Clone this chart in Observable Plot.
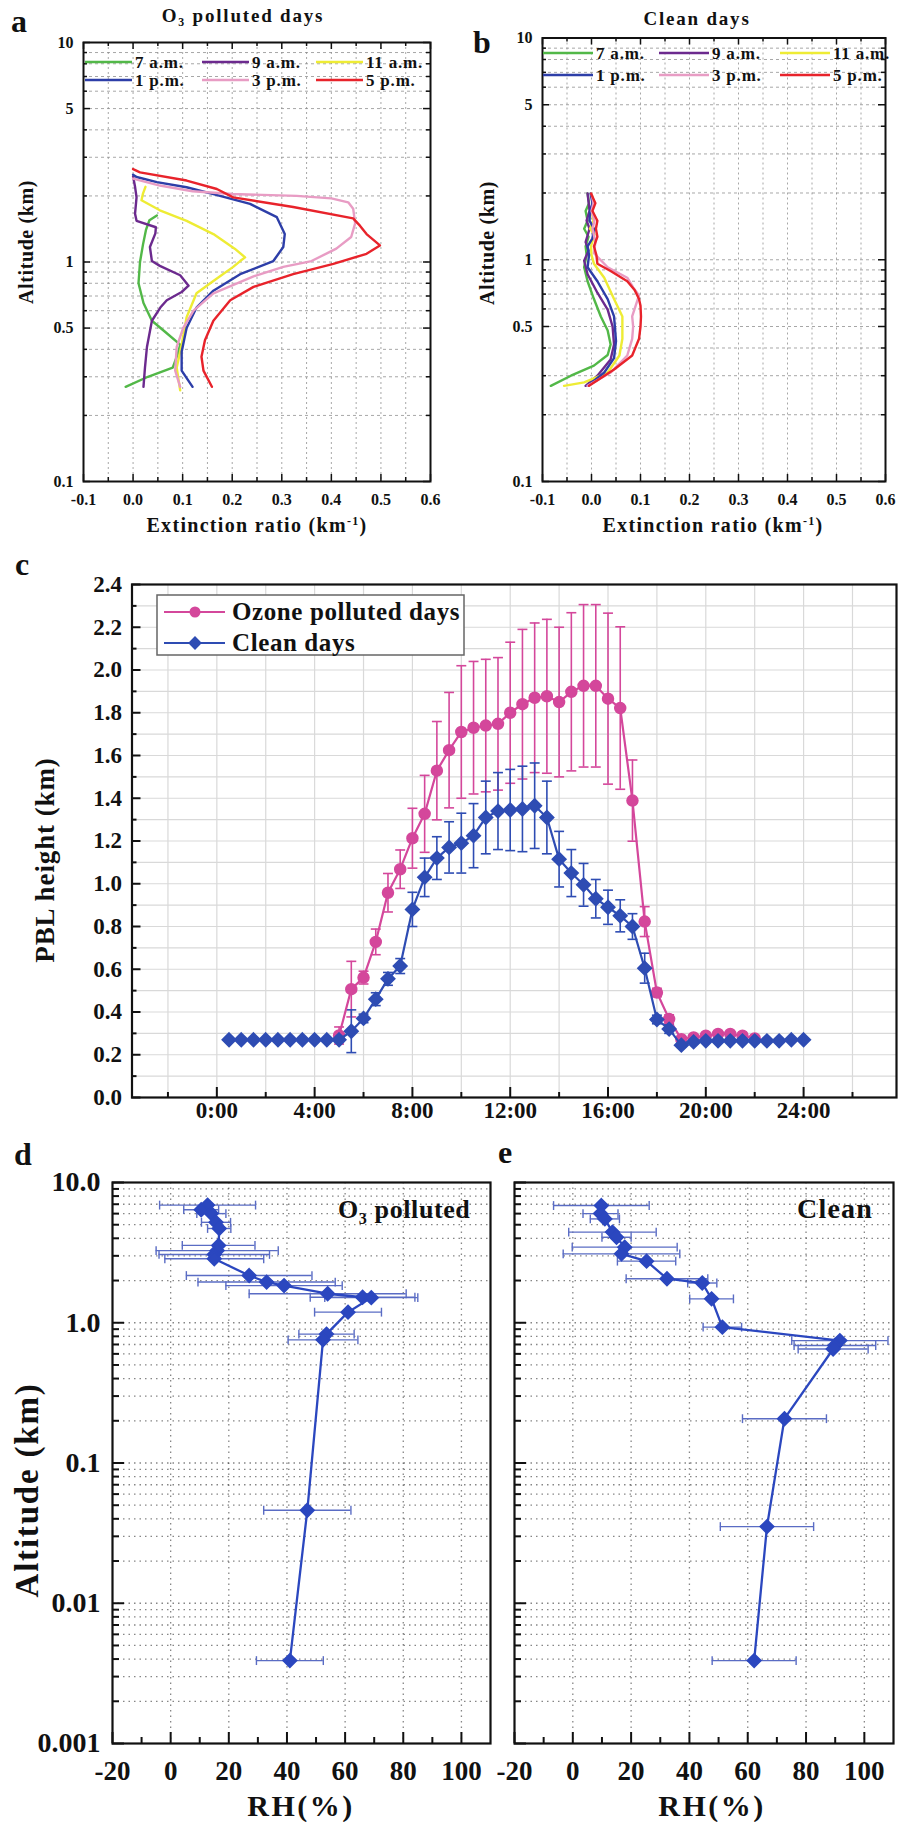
<!DOCTYPE html>
<html>
<head>
<meta charset="utf-8">
<script src="https://cdn.jsdelivr.net/npm/d3@7"></script>
<script src="https://cdn.jsdelivr.net/npm/@observablehq/plot@0.6"></script>
<style>
html,body{margin:0;padding:0;background:#fff;}
#root{position:relative;width:900px;height:1822px;overflow:hidden;background:#fff;}
</style>
</head>
<body>
<div id="root"></div>
<script>
// ================= DATA =================
// Panels a / b : extinction profiles  [altitude (km), extinction ratio (km^-1)]
const profileTimes = ["7 a.m.", "9 a.m.", "11 a.m.", "1 p.m.", "3 p.m.", "5 p.m."];

const polluted7am  = [[0.27,-0.015],[0.30,0.03],[0.33,0.08],[0.38,0.09],[0.42,0.095],[0.48,0.065],[0.54,0.038],[0.65,0.021],[0.80,0.011],[1.0,0.014],[1.2,0.02],[1.4,0.026],[1.55,0.033],[1.63,0.048]];
const polluted9am  = [[0.27,0.021],[0.33,0.024],[0.41,0.028],[0.54,0.038],[0.62,0.055],[0.67,0.068],[0.73,0.098],[0.78,0.112],[0.87,0.095],[0.96,0.054],[1.01,0.038],[1.17,0.034],[1.35,0.045],[1.44,0.046],[1.54,0.007],[1.66,0.004],[1.97,0.007],[2.2,0.004],[2.45,0.0]];
const polluted11am = [[0.26,0.095],[0.33,0.088],[0.42,0.098],[0.56,0.108],[0.72,0.128],[0.82,0.162],[0.95,0.202],[1.01,0.216],[1.05,0.226],[1.15,0.205],[1.34,0.162],[1.54,0.108],[1.72,0.054],[1.91,0.017],[2.05,0.02],[2.2,0.025]];
const polluted1pm  = [[0.27,0.12],[0.32,0.098],[0.39,0.098],[0.50,0.108],[0.62,0.128],[0.74,0.162],[0.88,0.216],[1.01,0.283],[1.17,0.303],[1.34,0.306],[1.6,0.29],[1.84,0.236],[2.04,0.162],[2.19,0.108],[2.31,0.048],[2.44,0.007],[2.5,0.0]];
const polluted3pm  = [[0.27,0.095],[0.32,0.085],[0.41,0.088],[0.50,0.101],[0.60,0.122],[0.72,0.162],[0.86,0.243],[0.95,0.303],[1.01,0.36],[1.15,0.41],[1.3,0.44],[1.5,0.448],[1.75,0.444],[1.87,0.434],[1.95,0.40],[2.0,0.33],[2.04,0.2],[2.1,0.12],[2.23,0.054],[2.4,0.0]];
const polluted5pm  = [[0.27,0.159],[0.32,0.142],[0.37,0.138],[0.44,0.145],[0.54,0.162],[0.67,0.196],[0.77,0.243],[0.88,0.323],[0.98,0.404],[1.09,0.471],[1.19,0.498],[1.34,0.471],[1.46,0.458],[1.58,0.444],[1.78,0.323],[1.97,0.202],[2.15,0.169],[2.35,0.108],[2.56,0.014],[2.65,0.0]];

const clean7am  = [[0.27,-0.083],[0.30,-0.042],[0.333,0.005],[0.372,0.033],[0.415,0.039],[0.48,0.033],[0.555,0.019],[0.665,0.005],[0.80,-0.008],[0.925,-0.015],[1.05,-0.01],[1.15,-0.012],[1.27,-0.006],[1.38,-0.015],[1.5,-0.008],[1.66,-0.012],[1.8,-0.005],[1.99,-0.008]];
const clean9am  = [[0.27,-0.012],[0.30,0.012],[0.355,0.039],[0.415,0.046],[0.50,0.043],[0.596,0.033],[0.71,0.012],[0.86,-0.008],[0.99,-0.015],[1.1,-0.006],[1.2,-0.012],[1.38,-0.004],[1.5,-0.01],[1.66,-0.004],[1.99,-0.008]];
const clean11am = [[0.27,-0.056],[0.28,-0.015],[0.31,0.033],[0.37,0.057],[0.44,0.063],[0.555,0.063],[0.665,0.046],[0.83,0.026],[0.96,0.005],[1.05,0.0],[1.15,-0.001],[1.3,0.006],[1.38,-0.003],[1.5,0.004],[1.66,0.0],[1.8,0.005],[1.99,0.0]];
const clean1pm  = [[0.27,-0.008],[0.31,0.026],[0.36,0.046],[0.43,0.05],[0.555,0.046],[0.665,0.033],[0.80,0.012],[0.925,-0.008],[1.05,-0.005],[1.15,-0.008],[1.25,0.002],[1.38,0.005],[1.5,-0.004],[1.66,-0.003],[1.8,0.002],[1.99,-0.002]];
const clean3pm  = [[0.27,-0.008],[0.31,0.039],[0.37,0.073],[0.44,0.083],[0.50,0.085],[0.555,0.083],[0.62,0.09],[0.69,0.097],[0.75,0.085],[0.83,0.073],[0.925,0.033],[1.07,0.005],[1.2,0.008],[1.38,0.002],[1.5,0.006],[1.66,0.0],[1.8,0.004],[1.99,0.0]];
const clean5pm  = [[0.27,-0.005],[0.32,0.046],[0.37,0.083],[0.44,0.097],[0.50,0.1],[0.555,0.101],[0.62,0.1],[0.665,0.097],[0.73,0.088],[0.80,0.073],[0.89,0.039],[0.96,0.012],[1.05,0.01],[1.15,0.005],[1.27,0.012],[1.38,0.009],[1.5,0.012],[1.66,0.002],[1.8,0.008],[1.99,-0.001]];

// Panel c : PBL height (km) vs local time (h)
const cleanHours = [0.5,1,1.5,2,2.5,3,3.5,4,4.5,5,5.5,6,6.5,7,7.5,8,8.5,9,9.5,10,10.5,11,11.5,12,12.5,13,13.5,14,14.5,15,15.5,16,16.5,17,17.5,18,18.5,19,19.5,20,20.5,21,21.5,22,22.5,23,23.5,24];
const cleanPBL   = [0.27,0.27,0.27,0.27,0.27,0.27,0.27,0.27,0.27,0.27,0.31,0.37,0.46,0.555,0.615,0.88,1.03,1.12,1.17,1.19,1.225,1.31,1.34,1.345,1.35,1.365,1.31,1.115,1.05,0.995,0.93,0.89,0.85,0.80,0.605,0.365,0.32,0.245,0.26,0.265,0.265,0.265,0.265,0.265,0.265,0.265,0.27,0.27];
const cleanPBLErr = [0,0,0,0,0,0,0,0,0,0,0.1,0.02,0.03,0.03,0.035,0.08,0.09,0.1,0.12,0.14,0.15,0.17,0.18,0.19,0.2,0.2,0.17,0.13,0.11,0.1,0.09,0.08,0.075,0.06,0.07,0.02,0.02,0.01,0,0,0,0,0,0,0,0,0,0];
const pollutedHours = [5,5.5,6,6.5,7,7.5,8,8.5,9,9.5,10,10.5,11,11.5,12,12.5,13,13.5,14,14.5,15,15.5,16,16.5,17,17.5,18,18.5,19,19.5,20,20.5,21,21.5,22];
const pollutedPBL   = [0.29,0.507,0.561,0.728,0.958,1.068,1.213,1.327,1.529,1.625,1.71,1.73,1.74,1.748,1.80,1.84,1.87,1.877,1.85,1.898,1.926,1.926,1.866,1.822,1.389,0.823,0.491,0.367,0.273,0.281,0.289,0.297,0.297,0.289,0.276];
const pollutedPBLErr = [0.04,0.13,0.03,0.06,0.09,0.09,0.14,0.18,0.23,0.27,0.31,0.31,0.31,0.31,0.33,0.35,0.35,0.36,0.35,0.37,0.38,0.38,0.40,0.38,0.19,0.07,0.02,0.02,0.01,0.01,0.01,0.01,0.01,0.01,0.01];

// Panels d / e : RH profiles  [altitude (km), RH (%), error (%)]
const rhPolluted = [[6.9,12.7,16.5],[6.4,10.5,6],[6.0,14,5],[5.2,15.6,5],[4.7,16.7,4],[3.56,16.5,12.5],[3.27,16,21],[3.07,15,19],[2.86,15,17],[2.17,27,21.6],[1.95,33,23.6],[1.84,39,20],[1.61,54,27],[1.52,66,18],[1.51,69,16],[1.19,61,11.5],[0.83,53.6,9.5],[0.755,52.4,12],[0.046,47,15],[0.0039,41,11.5]];
const rhClean = [[6.85,9.8,16.4],[6.0,9.5,6],[5.5,11,5],[4.43,13.6,15],[4.07,15,5],[3.46,17.8,18],[3.1,16.7,20],[2.75,25.3,10],[2.06,32.3,14],[1.92,44.4,5],[1.48,47.6,7.5],[0.93,51.3,6.6],[0.746,91.6,16.5],[0.688,89.9,14],[0.65,89.3,12],[0.207,72.6,14.4],[0.0352,66.6,16],[0.0039,62.2,14.4]];

// Tick values
const extTicks = [-0.1,0,0.1,0.2,0.3,0.4,0.5,0.6];
const extMinor = [-0.05,0.05,0.15,0.25,0.35,0.45,0.55];
const altTicksAB = [0.1,0.5,1,5,10];
const altMinorAB = [0.2,0.3,0.4,0.6,0.7,0.8,0.9,2,3,4,6,7,8,9];
const pblTicks = [0,0.2,0.4,0.6,0.8,1.0,1.2,1.4,1.6,1.8,2.0,2.2,2.4];
const pblMinor = [0.1,0.3,0.5,0.7,0.9,1.1,1.3,1.5,1.7,1.9,2.1,2.3];
const hourTicks = [0,4,8,12,16,20,24];
const hourMinor = [-2,2,6,10,14,18,22,26];
const rhTicks = [-20,0,20,40,60,80,100];
const rhMinor = [-10,10,30,50,70,90];
const altTicksDE = [0.001,0.01,0.1,1,10];
const altMinorDE = [0.002,0.003,0.004,0.005,0.006,0.007,0.008,0.009,0.02,0.03,0.04,0.05,0.06,0.07,0.08,0.09,0.2,0.3,0.4,0.5,0.6,0.7,0.8,0.9,2,3,4,5,6,7,8,9];

// ================= STYLE =================
const FONT = '"Liberation Serif", "Times New Roman", Times, serif';
const INK = "#111";
const profileColors = ["#52b848", "#6c2a8e", "#eeec34", "#2d3ea8", "#e89cc4", "#e8232b"];
const PINK = "#d4479b", BLUE = "#2e4cb3";
const RHBLUE = "#2b47bf", RHERR = "#5a6cc4";

const root = document.getElementById("root");
function place(el, left, top) {
  el.style.position = "absolute";
  el.style.left = left + "px";
  el.style.top = top + "px";
  root.appendChild(el);
}
const ticksBottom = (v, len, ih, sw = 1.5) => Plot.ruleX(v, {insetTop: ih - len, stroke: INK, strokeWidth: sw});
const ticksTop    = (v, len, ih, sw = 1.5) => Plot.ruleX(v, {insetBottom: ih - len, stroke: INK, strokeWidth: sw});
const ticksLeft   = (v, len, iw, sw = 1.5) => Plot.ruleY(v, {insetRight: iw - len, stroke: INK, strokeWidth: sw});
const ticksRight  = (v, len, iw, sw = 1.5) => Plot.ruleY(v, {insetLeft: iw - len, stroke: INK, strokeWidth: sw});
const hCap = {draw(ctx, size) { const r = Math.sqrt(size) / 2; ctx.moveTo(-r, 0); ctx.lineTo(r, 0); }};
const vCap = {draw(ctx, size) { const r = Math.sqrt(size) / 2; ctx.moveTo(0, -r); ctx.lineTo(0, r); }};

// ================= PANELS a / b =================
function profileRows(list) {
  return list.flatMap((arr, i) => arr.map(([alt, ext]) => ({time: profileTimes[i], alt, ext})));
}
function profilePanel(rows, W, H, mL, mR, mT, mB) {
  const iw = W - mL - mR, ih = H - mT - mB;
  return Plot.plot({
    width: W, height: H, marginLeft: mL, marginRight: mR, marginTop: mT, marginBottom: mB,
    x: {domain: [-0.1, 0.6]},
    y: {type: "log", domain: [0.1, 10]},
    color: {domain: profileTimes, range: profileColors},
    style: {fontFamily: FONT, fontSize: "16px", fontWeight: "bold", background: "transparent", color: INK, overflow: "visible"},
    marks: [
      Plot.gridX(extMinor.concat(extTicks.slice(1, -1)), {stroke: "#8a8a8a", strokeOpacity: 0.75, strokeDasharray: "2,3"}),
      Plot.gridY(altMinorAB.concat([0.5, 1, 5]), {stroke: "#8a8a8a", strokeOpacity: 0.75, strokeDasharray: "3,3"}),
      Plot.line(rows, {x: "ext", y: "alt", z: "time", stroke: "time", strokeWidth: 2.4}),
      ticksBottom(extTicks, 7, ih), ticksBottom(extMinor, 4, ih),
      ticksTop(extTicks, 7, ih), ticksTop(extMinor, 4, ih),
      ticksLeft(altTicksAB, 7, iw), ticksLeft(altMinorAB, 4, iw),
      ticksRight(altTicksAB, 7, iw), ticksRight(altMinorAB, 4, iw),
      Plot.frame({stroke: INK, strokeWidth: 2}),
      Plot.axisX(extTicks, {tickSize: 0, tickPadding: 12, tickFormat: d => d.toFixed(1), label: null, letterSpacing: 0.5}),
      Plot.axisY(altTicksAB, {tickSize: 0, tickPadding: 10, tickFormat: d => String(d), label: null})
    ]
  });
}
place(profilePanel(profileRows([polluted7am, polluted9am, polluted11am, polluted1pm, polluted3pm, polluted5pm]), 450, 545, 83, 20, 42, 64), 0, 0);
place(profilePanel(profileRows([clean7am, clean9am, clean11am, clean1pm, clean3pm, clean5pm]), 450, 545, 92, 15, 37.5, 64), 450, 0);

// ================= PANEL c =================
const cleanRows = cleanHours.map((h, i) => ({h, v: cleanPBL[i], e: cleanPBLErr[i]}));
const pollRows = pollutedHours.map((h, i) => ({h, v: pollutedPBL[i], e: pollutedPBLErr[i]}));
const cleanErrRows = cleanRows.filter(d => d.e > 0);
{
  const W = 900, H = 590, mL = 131.5, mR = 4, mT = 39, mB = 38;
  const iw = W - mL - mR, ih = H - mT - mB;
  const errMarks = (rows, color) => [
    Plot.ruleX(rows, {x: "h", y1: d => d.v - d.e, y2: d => d.v + d.e, stroke: color, strokeWidth: 1.6}),
    Plot.dot(rows, {x: "h", y: d => d.v + d.e, symbol: hCap, r: 5.6, fill: "none", stroke: color, strokeWidth: 1.6}),
    Plot.dot(rows, {x: "h", y: d => d.v - d.e, symbol: hCap, r: 5.6, fill: "none", stroke: color, strokeWidth: 1.6})
  ];
  const c = Plot.plot({
    width: W, height: H, marginLeft: mL, marginRight: mR, marginTop: mT, marginBottom: mB,
    x: {domain: [-3.47, 27.8]},
    y: {domain: [0, 2.4]},
    style: {fontFamily: FONT, fontSize: "23px", fontWeight: "bold", background: "transparent", color: INK, overflow: "visible"},
    marks: [
      Plot.gridX(hourMinor.concat(hourTicks), {stroke: "#d9d9d9", strokeOpacity: 1, strokeWidth: 1.2}),
      Plot.gridY(pblMinor.concat(pblTicks.slice(1, -1)), {stroke: "#d9d9d9", strokeOpacity: 1, strokeWidth: 1.2}),
      ...errMarks(pollRows, PINK),
      ...errMarks(cleanErrRows, BLUE),
      Plot.line(pollRows, {x: "h", y: "v", stroke: PINK, strokeWidth: 2.2}),
      Plot.dot(pollRows, {x: "h", y: "v", r: 5.5, fill: PINK, stroke: PINK}),
      Plot.line(cleanRows, {x: "h", y: "v", stroke: BLUE, strokeWidth: 2.2}),
      Plot.dot(cleanRows, {x: "h", y: "v", symbol: "diamond2", r: 6.2, fill: BLUE, stroke: BLUE}),
      ticksLeft(pblTicks, 9, iw, 2), ticksLeft(pblMinor, 5, iw, 2),
      ticksBottom(hourTicks, 10, ih, 2), ticksBottom(hourMinor, 5, ih, 2),
      Plot.frame({stroke: INK, strokeWidth: 2.2}),
      Plot.axisX(hourTicks, {tickSize: 0, tickPadding: 4, tickFormat: d => d + ":00", label: null}),
      Plot.axisY(pblTicks, {tickSize: 0, tickPadding: 10, tickFormat: d => d.toFixed(1), label: null})
    ]
  });
  place(c, 0, 545);
}

// ================= PANELS d / e =================
function rhPanel(list, W, mL, mR, showY) {
  const H = 682, mT = 42, mB = 79;
  const iw = W - mL - mR, ih = H - mT - mB;
  const rows = list.map(([alt, rh, err]) => ({alt, rh, err}));
  const marks = [
    Plot.gridX(rhTicks.slice(1), {stroke: "#222", strokeOpacity: 0.55, strokeDasharray: "1.5,4", strokeWidth: 1.3}),
    Plot.gridY(altMinorDE.concat([0.01, 0.1, 1]), {stroke: "#222", strokeOpacity: 0.55, strokeDasharray: "1.5,4", strokeWidth: 1.3}),
    Plot.ruleY(rows, {y: "alt", x1: d => d.rh - d.err, x2: d => d.rh + d.err, stroke: RHERR, strokeWidth: 1.4}),
    Plot.dot(rows, {x: d => d.rh - d.err, y: "alt", symbol: vCap, r: 5, fill: "none", stroke: RHERR, strokeWidth: 1.4}),
    Plot.dot(rows, {x: d => d.rh + d.err, y: "alt", symbol: vCap, r: 5, fill: "none", stroke: RHERR, strokeWidth: 1.4}),
    Plot.line(rows, {x: "rh", y: "alt", stroke: RHBLUE, strokeWidth: 2.3}),
    Plot.dot(rows, {x: "rh", y: "alt", symbol: "diamond2", r: 6.2, fill: RHBLUE, stroke: RHBLUE}),
    ticksLeft(altTicksDE, 12, iw, 2), ticksLeft(altMinorDE, 7, iw, 2),
    ticksBottom(rhTicks, 11, ih, 2), ticksBottom(rhMinor, 6, ih, 2),
    Plot.frame({stroke: INK, strokeWidth: 2.2}),
    Plot.axisX(rhTicks, {tickSize: 0, tickPadding: 17, tickFormat: d => String(d), label: null})
  ];
  if (showY) marks.push(Plot.axisY(altTicksDE, {tickSize: 0, tickPadding: 12, fontSize: 28, tickFormat: d => d >= 1 ? d.toFixed(1) : String(d), label: null}));
  return Plot.plot({
    width: W, height: H, marginLeft: mL, marginRight: mR, marginTop: mT, marginBottom: mB,
    x: {domain: [-20, 110]},
    y: {type: "log", domain: [0.001, 10], axis: showY ? undefined : null},
    style: {fontFamily: FONT, fontSize: "27px", fontWeight: "bold", background: "transparent", color: INK, overflow: "visible"},
    marks
  });
}
place(rhPanel(rhPolluted, 500, 112, 10, true), 0, 1140);
place(rhPanel(rhClean, 400, 14, 7, false), 500, 1140);

// ================= TEXT OVERLAY =================
const ov = d3.select(root).append("svg")
  .attr("width", 900).attr("height", 1822)
  .style("position", "absolute").style("left", "0px").style("top", "0px")
  .style("pointer-events", "none")
  .attr("font-family", FONT).attr("font-weight", "bold").attr("fill", INK);

function label(x, y, str, size, opts = {}) {
  const t = ov.append("text").attr("x", x).attr("y", y).attr("font-size", size)
    .attr("text-anchor", opts.anchor || "start");
  if (opts.ls != null) t.attr("letter-spacing", opts.ls);
  if (opts.rotate) t.attr("transform", `rotate(-90 ${x} ${y})`).attr("dominant-baseline", "central");
  if (str != null) t.text(str);
  return t;
}
function withSub(t, before, sub, after) {
  t.append("tspan").text(before);
  t.append("tspan").attr("font-size", "0.62em").attr("dy", "0.35em").text(sub);
  t.append("tspan").attr("dy", "-0.22em").text(after);
  return t;
}
function extLabel(x, y) {
  const t = label(x, y, null, 20, {anchor: "middle", ls: 1.3});
  t.append("tspan").text("Extinction ratio (km");
  t.append("tspan").attr("font-size", "0.6em").attr("dy", "-0.6em").text("-1");
  t.append("tspan").attr("dy", "0.36em").text(")");
}

// panel letters
label(11, 32, "a", 32);
label(473, 53, "b", 32);
label(15, 575, "c", 32);
label(14, 1165, "d", 32);
label(498, 1163, "e", 32);

// panel a / b titles & axis labels
withSub(label(243, 22, null, 19, {anchor: "middle", ls: 1.8}), "O", "3", " polluted days");
label(697, 25, "Clean days", 19, {anchor: "middle", ls: 1.8});
label(26, 242, "Altitude (km)", 20, {anchor: "middle", rotate: true, ls: 0.6});
label(487, 243, "Altitude (km)", 20, {anchor: "middle", rotate: true, ls: 0.6});
extLabel(257, 532);
extLabel(713, 532);

// profile legends
function profileLegend(cols, rows, lineLen) {
  profileTimes.forEach((t, i) => {
    const x0 = cols[i % 3], y = rows[Math.floor(i / 3)];
    ov.append("line").attr("x1", x0).attr("x2", x0 + lineLen).attr("y1", y).attr("y2", y)
      .attr("stroke", profileColors[i]).attr("stroke-width", 2.6);
    label(x0 + lineLen + 3, y + 6, t, 17, {ls: 0.8});
  });
}
profileLegend([85, 202, 316], [62, 80], 47);
profileLegend([543, 659, 780], [53, 75], 50);

// panel c labels & legend
label(45, 860, "PBL height (km)", 27, {anchor: "middle", rotate: true, ls: 0.9});
ov.append("rect").attr("x", 157).attr("y", 595).attr("width", 307).attr("height", 60)
  .attr("fill", "#fff").attr("stroke", "#666").attr("stroke-width", 1.5);
ov.append("line").attr("x1", 164).attr("x2", 225).attr("y1", 612).attr("y2", 612).attr("stroke", PINK).attr("stroke-width", 2.2);
ov.append("circle").attr("cx", 195).attr("cy", 612).attr("r", 5.5).attr("fill", PINK);
ov.append("line").attr("x1", 164).attr("x2", 225).attr("y1", 643).attr("y2", 643).attr("stroke", BLUE).attr("stroke-width", 2.2);
ov.append("path").attr("d", d3.symbol(d3.symbolDiamond2, Math.PI * 6.2 * 6.2)()).attr("transform", "translate(195,643)").attr("fill", BLUE);
label(232, 620, "Ozone polluted days", 25, {ls: 0.6});
label(232, 651, "Clean days", 25, {ls: 0.6});

// panels d / e labels
label(27, 1490, "Altitude (km)", 33, {anchor: "middle", rotate: true, ls: 1.8});
label(301, 1816, "RH(%)", 30, {anchor: "middle", ls: 2.5});
label(712, 1816, "RH(%)", 30, {anchor: "middle", ls: 2.5});
withSub(label(338, 1218, null, 26, {ls: 0.6}), "O", "3", " polluted");
label(873, 1218, "Clean", 28, {anchor: "end", ls: 1.2});
</script>
</body>
</html>
